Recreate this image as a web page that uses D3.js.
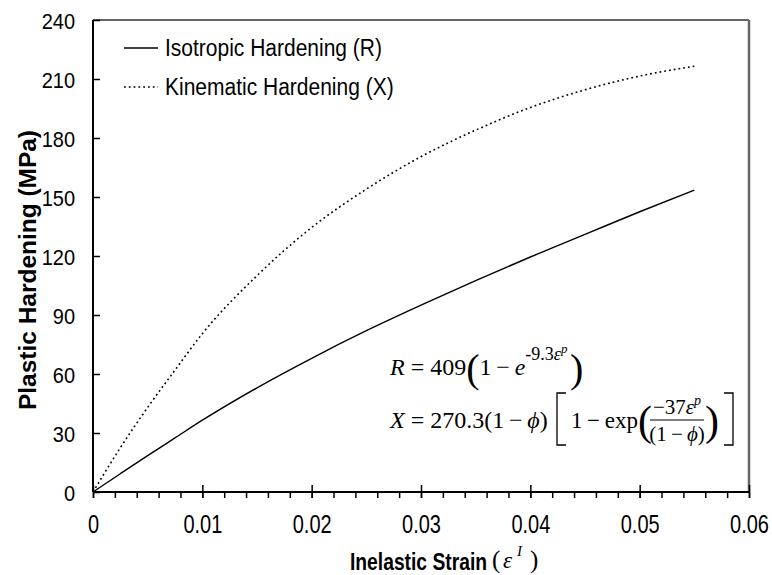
<!DOCTYPE html>
<html>
<head>
<meta charset="utf-8">
<script src="https://cdn.jsdelivr.net/npm/d3@7"></script>
<style>
body { margin: 0; background: #fff; }
svg { display: block; }
text { font-family: Arial, "Liberation Sans", sans-serif; }
.math { font-family: "Times New Roman", "Liberation Serif", serif; }
</style>
</head>
<body>
<svg></svg>
<script>
// values
var strain = [0, 0.0025, 0.005, 0.0075, 0.01, 0.015, 0.02, 0.025, 0.03, 0.035, 0.04, 0.045, 0.05, 0.055];
var isoR = [0, 9.3, 18.5, 27.5, 36.5, 53, 68, 82, 95, 107.5, 119.5, 131, 142.5, 153.5];
var kinX = [0, 22.5, 43, 62, 80.5, 110, 134.5, 154, 170.5, 184, 195.5, 204.5, 211.5, 216.5];
var xTicks = [0, 0.01, 0.02, 0.03, 0.04, 0.05, 0.06];
var yTicks = [0, 30, 60, 90, 120, 150, 180, 210, 240];
var seriesNames = ["Isotropic Hardening (R)", "Kinematic Hardening (X)"];

var w = 772, h = 575;
var pL = 93, pR = 749, pT = 20, pB = 492;

var svg = d3.select('svg')
    .attr('width', w)
    .attr('height', h);

var x = d3.scaleLinear().domain([0, 0.06]).range([pL, pR]);
var y = d3.scaleLinear().domain([0, 240]).range([pB, pT]);

// frame (top and right)
svg.append('line')
    .attr('x1', pL).attr('x2', pR).attr('y1', pT).attr('y2', pT)
    .attr('stroke', '#333').attr('stroke-width', 1.5);
svg.append('line')
    .attr('x1', pR).attr('x2', pR).attr('y1', pT).attr('y2', pB)
    .attr('stroke', '#666').attr('stroke-width', 2.5);

// minor x ticks
var minor = d3.range(0, 0.0601, 0.002);
svg.append('g')
    .attr('transform', 'translate(0,' + pB + ')')
    .call(d3.axisBottom(x).tickValues(minor).tickSize(6).tickFormat(''))
    .call(function(g){ g.select('.domain').remove(); })
    .selectAll('line').attr('stroke-width', 1.5);

// major x axis
var xAxis = svg.append('g')
    .attr('transform', 'translate(0,' + pB + ')')
    .call(d3.axisBottom(x).tickValues(xTicks).tickSize(6)
        .tickFormat(function(d){ return d === 0 ? '0' : d3.format('.2f')(d); }));
xAxis.select('.domain').attr('stroke-width', 2).attr('d', 'M' + pL + ',0H' + pR);
xAxis.selectAll('.tick line').attr('y1', -7).attr('stroke-width', 1.5);
xAxis.selectAll('.tick text')
    .attr('font-size', 20)
    .attr('font-family', 'Arial, "Liberation Sans", sans-serif')
    .attr('fill', '#000')
    .attr('y', 0).attr('dy', 0)
    .attr('transform', 'translate(0,41) scale(1,1.25)');

// y axis
var yAxis = svg.append('g')
    .attr('transform', 'translate(' + pL + ',0)')
    .call(d3.axisLeft(y).tickValues(yTicks).tickSize(-7).tickPadding(18));
yAxis.select('.domain').attr('stroke-width', 2).attr('d', 'M0,' + pT + 'V' + pB);
yAxis.selectAll('.tick line').attr('stroke-width', 1.5);
yAxis.selectAll('.tick text')
    .attr('font-size', 20)
    .attr('font-family', 'Arial, "Liberation Sans", sans-serif')
    .attr('fill', '#000')
    .attr('dy', 0).attr('y', 0)
    .attr('transform', 'translate(0,8) scale(1,1.1)');

// curves
var line = d3.line()
    .x(function(d){ return x(d[0]); })
    .y(function(d){ return y(d[1]); })
    .curve(d3.curveMonotoneX);

svg.append('path')
    .datum(d3.zip(strain, isoR))
    .attr('d', line)
    .attr('fill', 'none')
    .attr('stroke', '#000')
    .attr('stroke-width', 1.4);

svg.append('path')
    .datum(d3.zip(strain, kinX))
    .attr('d', line)
    .attr('fill', 'none')
    .attr('stroke', '#000')
    .attr('stroke-width', 1.6)
    .attr('stroke-dasharray', '1.8,3');

// legend
var legend = svg.append('g');
var legY = [48, 87];
legend.selectAll('line')
    .data(seriesNames)
    .enter()
    .append('line')
    .attr('x1', 124).attr('x2', 158)
    .attr('y1', function(d,i){ return legY[i]; })
    .attr('y2', function(d,i){ return legY[i]; })
    .attr('stroke', '#000')
    .attr('stroke-width', function(d,i){ return i ? 1.6 : 1.3; })
    .attr('stroke-dasharray', function(d,i){ return i ? '1.8,3' : null; });
legend.selectAll('text')
    .data(seriesNames)
    .enter()
    .append('text')
    .attr('x', 0).attr('y', 0)
    .attr('transform', function(d,i){ return 'translate(165,' + (legY[i] + 8) + ') scale(1,1.1)'; })
    .attr('font-size', 21)
    .text(function(d){ return d; });

// axis titles
svg.append('text')
    .attr('transform', 'translate(36,270) rotate(-90)')
    .attr('text-anchor', 'middle')
    .attr('font-size', 23)
    .attr('font-weight', 'bold')
    .attr('textLength', 280)
    .attr('lengthAdjust', 'spacingAndGlyphs')
    .text('Plastic Hardening (MPa)');

svg.append('text')
    .attr('x', 350)
    .attr('y', 570)
    .attr('font-size', 24)
    .attr('font-weight', 'bold')
    .attr('textLength', 137)
    .attr('lengthAdjust', 'spacingAndGlyphs')
    .text('Inelastic Strain');

// equations and math pieces
var eq = svg.append('g');
function row(xp, yp, anchor, parts) {
    var tx = eq.append('text')
        .attr('class', 'math')
        .attr('x', xp).attr('y', yp)
        .attr('text-anchor', anchor || 'start');
    parts.forEach(function(p){
        tx.append('tspan')
            .attr('font-size', p[1])
            .attr('font-style', p[2] ? 'italic' : 'normal')
            .attr('dy', p[3] || 0)
            .text(p[0]);
    });
    return tx;
}
// (eps^I) in the x title
row(492, 568, 'start', [['(', 25]]);
row(503, 568, 'start', [['\u03b5', 23, true]]);
row(517, 556, 'start', [['I', 15, true]]);
row(530, 568, 'start', [[')', 25]]);

// R = 409(1 - e^{-9.3 eps^p})
row(390, 375, 'start', [
    ['R', 24, true], [' = 409', 24], ['(', 40, false, 7],
    ['1\u2009\u2212\u2009', 24, false, -7], ['e', 24, true],
    ['-9.3', 18, false, -15], ['\u03b5', 18, true], ['p', 13, true, -7]
]);
row(570, 382, 'start', [[')', 40]]);

// X = 270.3(1-phi)[1 - exp(-37 eps^p / (1-phi))]
row(390, 428, 'start', [
    ['X', 24, true], [' = 270.3(1\u2009\u2212\u2009', 24], ['\u03d5', 24, true], [')', 24]
]);
eq.append('path')
    .attr('d', 'M566,393H557V445H566')
    .attr('fill', 'none').attr('stroke', '#000').attr('stroke-width', 1.3);
row(571, 428, 'start', [['1\u2009\u2212\u2009exp', 23]]);
row(638, 435, 'start', [['(', 42]]);
row(677, 414, 'middle', [['\u221237', 21], ['\u03b5', 21, true], ['p', 14, true, -9]]);
eq.append('line')
    .attr('x1', 650).attr('x2', 704).attr('y1', 420).attr('y2', 420)
    .attr('stroke', '#000').attr('stroke-width', 1.1);
row(677, 441, 'middle', [['(1\u2009\u2212\u2009', 21], ['\u03d5', 21, true], [')', 21]]);
row(705, 435, 'start', [[')', 42]]);
eq.append('path')
    .attr('d', 'M724,393H733V445H724')
    .attr('fill', 'none').attr('stroke', '#000').attr('stroke-width', 1.3);
</script>
</body>
</html>
